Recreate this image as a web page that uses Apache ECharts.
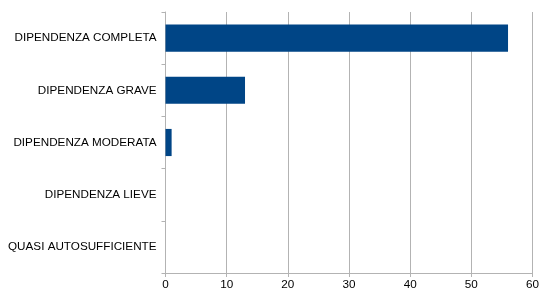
<!DOCTYPE html>
<html><head><meta charset="utf-8">
<script src="https://cdn.jsdelivr.net/npm/echarts@6/dist/echarts.min.js"></script>
<style>html,body{margin:0;padding:0;background:#fff}#c{width:542px;height:296px}</style>
</head><body><div id="c"></div>
<script>
var categories = ["DIPENDENZA COMPLETA","DIPENDENZA GRAVE","DIPENDENZA MODERATA","DIPENDENZA LIEVE","QUASI AUTOSUFFICIENTE"];
var values = [56, 13, 1, 0, 0];
var xTicks = [0, 10, 20, 30, 40, 50, 60];

var chart = echarts.init(document.getElementById('c'), null, {renderer:'canvas'});
chart.setOption({
  animation:false,
  grid:{left:165.5, right:6, top:12, bottom:23, containLabel:false},
  xAxis:{type:'value', min:xTicks[0], max:xTicks[xTicks.length-1], interval:10,
    axisLine:{show:true, lineStyle:{color:'#b3b3b3'}},
    axisTick:{show:true, length:4, lineStyle:{color:'#b3b3b3'}},
    splitLine:{show:true, lineStyle:{color:'#b3b3b3'}},
    axisLabel:{color:'#000', fontFamily:'Liberation Sans', fontSize:11.7, margin:6}
  },
  yAxis:{type:'category', data:categories, inverse:true,
    axisLine:{show:true, lineStyle:{color:'#b3b3b3'}},
    axisTick:{show:true, length:4, lineStyle:{color:'#b3b3b3'}},
    axisLabel:{color:'#000', fontFamily:'Liberation Sans', fontSize:11.7, margin:9}
  },
  series:[{type:'bar', data:values, barCategoryGap:'48%', itemStyle:{color:'#004586'}}]
});
</script></body></html>
